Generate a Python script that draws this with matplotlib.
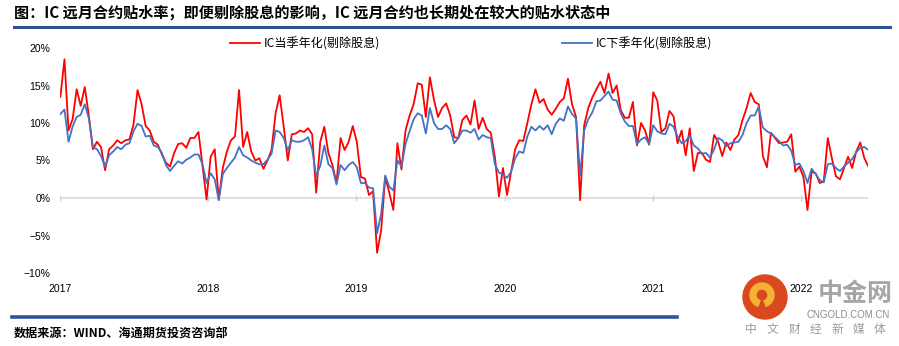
import matplotlib
matplotlib.use('Agg')
import matplotlib.pyplot as plt
import matplotlib.ticker as mticker
from matplotlib.lines import Line2D
from matplotlib.patches import Circle, Wedge
from matplotlib.transforms import IdentityTransform
from matplotlib.font_manager import FontProperties
import pandas as pd

plt.rcParams['font.family'] = ['Liberation Sans', 'Noto Sans CJK SC']

# IC basis, annualised, dividends removed (%), one reading every 10 days
dates = pd.date_range('2017-01-02', periods=200, freq='10D')

ic_this_quarter = [
    13.5, 18.5, 9.0, 10.5, 14.5, 12.3, 14.8, 11.0, 6.5, 7.5,
    6.8, 3.7, 6.5, 7.0, 7.7, 7.3, 7.7, 7.8, 9.8, 14.4,
    12.5, 9.6, 9.0, 7.5, 7.1, 5.8, 4.7, 4.2, 6.0, 7.2,
    7.3, 6.7, 8.0, 8.0, 8.8, 4.3, -0.2, 5.5, 6.5, -0.2,
    4.0, 6.2, 7.7, 8.2, 14.4, 6.8, 8.8, 6.2, 5.0, 5.3,
    3.9, 5.0, 6.4, 11.3, 13.7, 9.5, 5.0, 8.5, 8.6, 9.0,
    8.8, 9.3, 8.5, 0.7, 7.5, 9.5, 6.0, 4.4, 2.0, 8.0,
    6.4, 7.5, 9.6, 7.5, 2.8, 2.6, 0.4, 0.9, -7.3, -4.3,
    2.8, 0.7, -1.6, 7.3, 3.8, 9.0, 11.0, 12.5, 15.3, 15.1,
    10.8, 16.1, 13.1, 10.8, 12.0, 12.6, 11.0, 8.1, 8.0, 10.4,
    11.0, 9.8, 13.0, 9.2, 10.7, 9.2, 8.7, 5.5, 0.2, 4.0,
    0.4, 3.5, 6.5, 7.7, 7.6, 10.0, 12.5, 14.5, 12.7, 13.2,
    11.8, 11.1, 11.9, 12.8, 13.3, 15.9, 12.5, 10.8, -0.3, 9.7,
    12.0, 13.4, 14.5, 15.5, 14.0, 16.6, 14.0, 15.0, 11.7, 10.7,
    10.7, 12.8, 7.0, 10.0, 9.0, 7.1, 14.1, 13.0, 8.8, 9.3,
    11.6, 10.9, 7.3, 9.0, 5.7, 9.3, 3.6, 6.0, 6.0, 5.1,
    4.8, 8.4, 7.5, 5.6, 7.4, 6.4, 7.8, 8.4, 10.4, 12.0,
    14.0, 12.8, 12.5, 5.6, 4.1, 8.7, 8.0, 7.3, 7.4, 7.5,
    8.5, 3.5, 4.2, 2.8, -1.6, 3.5, 3.3, 2.0, 2.2, 8.0,
    5.3, 2.9, 2.5, 4.0, 5.5, 4.0, 6.2, 7.4, 5.3, 4.2,
]

ic_next_quarter = [
    11.2, 11.8, 7.5, 9.5, 10.8, 11.1, 12.5, 10.6, 6.8, 6.5,
    5.6, 4.2, 5.7, 6.2, 6.8, 6.5, 7.1, 7.3, 8.9, 9.9,
    9.6, 8.2, 8.3, 7.0, 6.8, 6.0, 4.4, 3.6, 4.3, 4.9,
    4.6, 5.1, 5.4, 5.8, 5.8, 4.5, 2.0, 3.3, 2.5, -0.3,
    3.2, 4.0, 4.7, 5.4, 6.8, 5.7, 5.4, 5.0, 4.7, 4.5,
    4.5, 5.1, 5.9, 9.0, 8.8, 8.0, 6.4, 7.7, 7.5, 7.5,
    7.7, 8.1, 6.5, 2.9, 4.3, 7.0, 4.5, 4.0, 1.8, 4.4,
    3.7, 4.4, 4.8, 4.1, 2.0, 2.0, 1.4, 1.3, -4.7, -2.1,
    3.0, 1.5, 1.0, 5.0, 4.2, 7.2, 8.9, 10.5, 11.3, 11.0,
    8.6, 12.0, 10.0, 9.2, 9.2, 9.7, 9.2, 7.3, 8.0, 9.0,
    9.0, 8.7, 9.2, 7.8, 8.4, 8.1, 8.0, 4.5, 3.4, 3.1,
    2.7, 3.5, 5.3, 6.2, 6.0, 8.2, 9.5, 9.0, 9.6, 9.1,
    9.7, 8.5, 9.9, 10.6, 10.3, 12.2, 11.2, 10.6, 3.0, 9.0,
    10.5, 11.4, 12.9, 13.0, 13.6, 14.2, 13.1, 13.0, 11.3, 10.2,
    9.6, 9.6, 7.2, 7.8, 8.1, 7.2, 9.7, 8.9, 8.6, 8.5,
    9.9, 9.5, 8.2, 7.3, 7.6, 8.3, 7.0, 6.6, 5.9, 6.0,
    5.4, 6.5, 8.0, 7.7, 6.9, 7.3, 7.4, 7.5, 8.4, 10.0,
    11.0, 11.0, 12.2, 9.4, 8.9, 8.6, 8.1, 7.6, 7.0, 7.1,
    6.3, 4.4, 4.6, 3.6, 2.0, 3.9, 3.2, 2.4, 2.1, 4.5,
    4.6, 4.0, 3.6, 4.2, 4.7, 5.2, 6.1, 6.7, 6.8, 6.4,
]

series_labels = ['IC当季年化(剔除股息)', 'IC下季年化(剔除股息)']
year_labels = ['2017', '2018', '2019', '2020', '2021', '2022']
y_ticks = [-10, -5, 0, 5, 10, 15, 20]

title = '图：IC 远月合约贴水率；即便剔除股息的影响，IC 远月合约也长期处在较大的贴水状态中'
source = '数据来源：WIND、海通期货投资咨询部'

W, H = 899, 346
fig = plt.figure(figsize=(W / 100, H / 100), dpi=100)
ax = fig.add_axes([60 / W, 1 - 273 / H, 808 / W, 225 / H])

year_pos = pd.to_datetime([f'{y}-01-01' for y in year_labels])

# zero line with small year ticks on it
ax.axhline(0, color='#D9D9D9', lw=1.2, zorder=1)
ax.plot(year_pos, [0] * len(year_pos), ls='none', marker='|', ms=5,
        mew=1.0, color='#D0D0D0', zorder=1)

red_line, = ax.plot(dates, ic_this_quarter, color='#FF0000', lw=1.3, zorder=2)
blue_line, = ax.plot(dates, ic_next_quarter, color='#4472C4', lw=1.3, zorder=3)

ax.set_xlim(pd.Timestamp('2017-01-01'), pd.Timestamp('2022-06-14'))
ax.set_ylim(-10, 20)
ax.set_yticks(y_ticks)
ax.yaxis.set_major_formatter(
    mticker.FuncFormatter(lambda v, p: f'{v:.0f}%'.replace('-', '\u2212')))
ax.set_xticks(year_pos)
ax.set_xticklabels(year_labels)
ax.tick_params(axis='y', length=0, pad=7, labelsize=7.5, labelcolor='#000000')
ax.tick_params(axis='x', length=0, pad=8, labelsize=7.5, labelcolor='#000000')
for s in ax.spines.values():
    s.set_visible(False)

fig.legend([red_line, blue_line], series_labels, loc='center',
           bbox_to_anchor=(471 / W, 1 - 44 / H), ncol=2, frameon=False,
           handlelength=2.5, handletextpad=0.3, columnspacing=15,
           borderpad=0, prop=FontProperties(family='Noto Sans CJK SC', size=8.7))

# header and footer
fig.text(14 / W, 1 - 13 / H, title, ha='left', va='center', fontsize=10.9,
         fontweight='bold', family=['Noto Sans CJK SC'])
fig.add_artist(Line2D([14 / W, 890 / W], [1 - 27 / H] * 2, lw=2.2,
                      color='#2F5496'))
fig.add_artist(Line2D([12 / W, 677 / W], [1 - 317 / H] * 2, lw=2.6,
                      color='#2F5496'))
fig.text(14 / W, 1 - 333 / H, source, ha='left', va='center', fontsize=8.7,
         fontweight='bold', family=['Noto Sans CJK SC'])

# site logo, bottom right
px = IdentityTransform()
fig.add_artist(Circle((765, H - 297), 22, transform=px, color='#D9481F',
                      zorder=0))
fig.add_artist(Wedge((762, H - 295), 12, -70, 250, width=6, transform=px,
                     color='#F2B233', zorder=0))
fig.text(855 / W, 1 - 294 / H, '中金网', ha='center', va='center', fontsize=18,
         fontweight='bold', color='#A6A6A6', family=['Noto Sans CJK SC'],
         zorder=0)
fig.text(848 / W, 1 - 315 / H, 'CNGOLD.COM.CN', ha='center', va='center',
         fontsize=7, color='#8C8C8C', zorder=0)
for k, ch in enumerate('中文财经新媒体'):
    fig.text((751 + k * 21.5) / W, 1 - 329 / H, ch, ha='center', va='center',
             fontsize=8.5, color='#9A9A9A', family=['Noto Sans CJK SC'],
             zorder=0)

fig.savefig('out.png', dpi=100)
